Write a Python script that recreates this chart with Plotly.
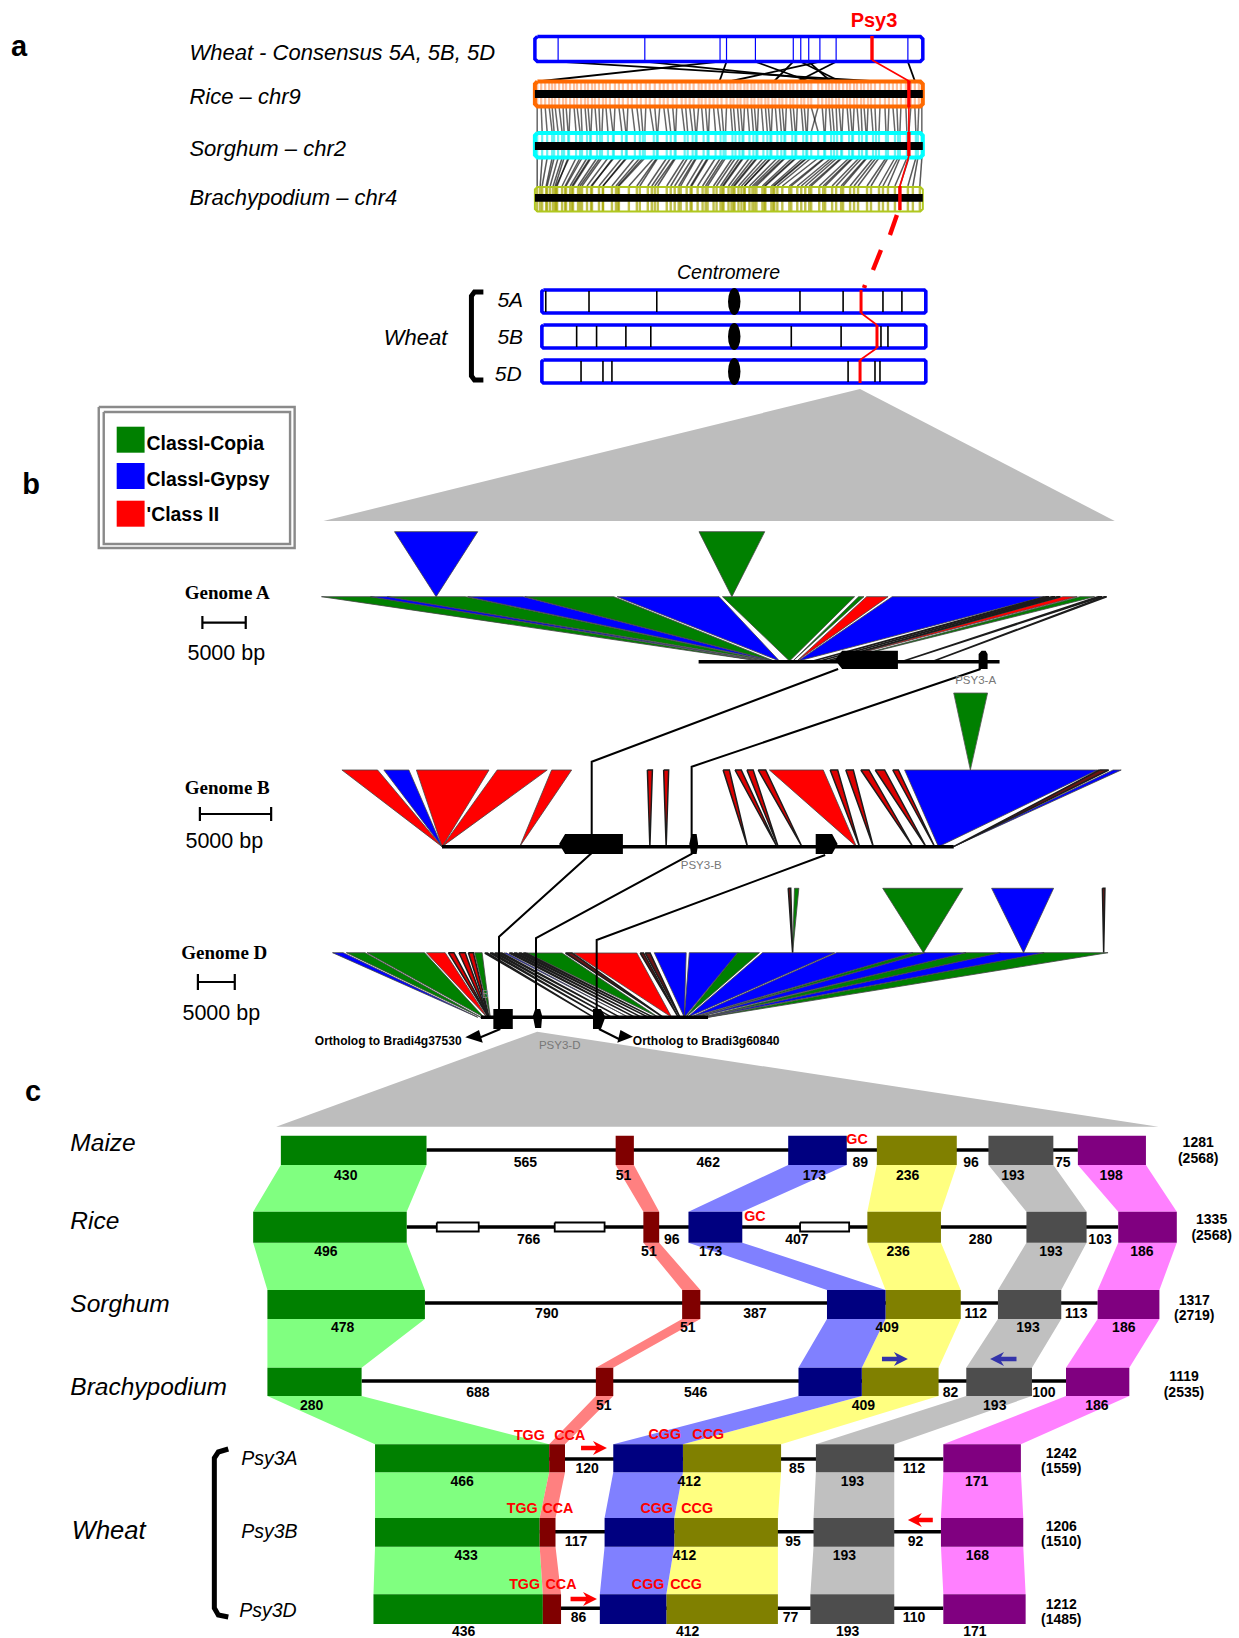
import plotly.graph_objects as go

# ---------- Panel a data (horizontal position along chromosome, in image units) ----------
consensus_ticks = [561, 648, 723.5, 730, 759, 797, 804.5, 812.5, 823.7, 840, 912]
consensus_to_rice_top = [561, 648, 723.5, 730, 759, 797, 804.5, 812.5, 823.7, 840, 912]
consensus_to_rice_bottom = [874, 839, 545, 723, 812, 778, 843, 834, 735, 802, 919]
rice_genes = [540,544,548,552,555,558,562,566,569,573,
              577,580,584,588,591,595,598,602,606,609,
              613,618,622,626,631,635,640,644,649,653,
              658,663,667,671,676,680,685,689,693,697,
              702,705,709,713,717,721,725,730,734,737,
              741,744,748,751,755,758,762,765,769,772,
              776,779,783,786,790,794,797,801,805,808,
              812,815,822,826,830,833,836,840,843,847,
              851,854,858,861,865,868,872,875,879,884,
              889,893,897,901,905,910,915,919,923,926]
sorghum_genes = [540,545,550,555,557,561,565,567,571,572,
                 579,583,585,590,593,594,600,603,605,611,
                 616,617,625,629,630,638,643,646,648,657,
                 660,661,670,674,678,679,688,691,696,699,
                 700,707,711,712,719,724,727,729,736,739,
                 743,746,747,753,757,760,761,767,771,774,
                 775,781,785,788,789,796,799,800,807,810,
                 811,822,815,828,829,835,838,841,845,846,
                 853,856,857,863,866,870,871,877,880,883,
                 890,892,899,902,904,911,913,920,922,926]
brachy_genes = [540,543,545,549,550,553,556,558,560,559,
                565,568,569,573,575,576,581,583,585,590,
                595,594,602,606,606,615,619,621,622,632,
                640,643,651,655,658,661,670,674,678,682,
                684,690,694,695,701,706,709,711,717,720,
                724,726,727,732,735,737,738,742,745,748,
                748,753,756,758,760,766,768,769,775,777,
                778,786,781,793,795,801,805,809,813,815,
                823,827,829,836,840,845,847,854,858,862,
                871,875,883,887,892,899,904,912,917,924]
wheat_5a_ticks = [548.6, 592, 660, 803.7, 847, 887, 906]
wheat_5b_ticks = [579.6, 599.6, 629, 654, 795, 845, 885, 892]
wheat_5d_ticks = [584, 606, 615, 852, 879, 884]
wheat_psy3_pos = [865, 881, 864]

# ---------- Panel b data: left edge, right edge, apex, class ----------
genome_a_left  = [347,420,445,565,650,788,945,1148,1160,1198,1427,1436,1444,1452,1478,1505,1514]
genome_a_right = [420,445,562,648,783,940,1142,1156,1192,1425,1432,1441,1449,1474,1500,1511,1518]
genome_a_apex  = [1000,1008,1015,1020,1022,1030,1045,1050,1056,1058,1080,1090,1100,1105,1115,1215,1260]
genome_a_class = list("GBGBGBGGRBKKKRGKK")
genome_a_upper_left  = [456, 910]
genome_a_upper_right = [580, 1008]
genome_a_upper_apex  = [518, 959]
genome_a_upper_class = list("BG")

genome_b_left  = [293,360,412,541,628,781,807,902,921,940,958,976,1073,1098,1122,1145,1173,1192,1503,1525]
genome_b_right = [350,400,528,621,660,789,815,912,931,950,970,1062,1085,1110,1135,1160,1182,1500,1518,1538]
genome_b_apex  = [453,453,453,453,577,785,811,941,988,990,1028,1115,1120,1142,1205,1226,1240,1246,1270,1270]
genome_b_class = list("RBRRRTTTTTTRTTTTTBKB")

genome_d_left_l = [278,300,333,428,463,480,495,505]
genome_d_left_r = [295,330,425,458,472,490,503,517]
genome_d_left_a = [510,515,520,525,527,527,528,530]
genome_d_left_c = list("BGGRTTTG")

genome_d_mid_l = [22,38,52,66,80,96,110,124,138,150,265,290,490,505]
genome_d_mid_r = [30,46,60,74,88,104,118,132,146,255,285,480,500,520]
genome_d_mid_a = [350,380,405,430,455,475,495,515,530,545,560,585,605,610]
genome_d_mid_c = list("KKKKBTKKKGKRKK")

genome_d_right_l = [792,848,925,965,1083,1205,1225,1290,1345,1415]
genome_d_right_r = [843,925,960,1080,1205,1225,1290,1345,1415,1517]
genome_d_right_a = [840,840,842,845,850,855,860,868,872,878]
genome_d_right_c = list("BBGBBGBGBG")

genome_d_upper_left  = [1006,1016,1157,1331,1508]
genome_d_upper_right = [1010,1023,1285,1430,1512]
genome_d_upper_apex  = [1013,1013,1222,1382,1510]
genome_d_upper_class = list("KGGBK")

# ---------- Panel c data ----------
row_names = ["Maize", "Rice", "Sorghum", "Brachypodium", "Psy3A", "Psy3B", "Psy3D"]
row_top    = [1135.7, 1211.7, 1290, 1367.7, 1444.3, 1518, 1594.3]
row_bottom = [1165, 1242.7, 1319, 1396, 1472.3, 1546.7, 1624]
row_line   = [1150, 1227, 1303, 1381, 1459, 1531.7, 1608.3]
green_start  = [356, 321, 339, 339, 475, 475, 473]
green_end    = [540, 515, 538, 458, 695, 683, 687]
red_start    = [779, 814, 863, 754, 695, 683, 687]
red_end      = [802, 834, 886, 776, 715, 703, 710]
navy_start   = [997, 871, 1046, 1010, 776, 765, 759]
navy_end     = [1071, 939, 1120, 1090, 864, 853, 843]
olive_start  = [1109, 1097, 1120, 1090, 864, 853, 843]
olive_end    = [1210, 1190, 1215, 1187, 988, 984, 984]
gray_start   = [1250, 1298, 1262, 1222, 1032, 1029, 1025]
gray_end     = [1332, 1374, 1342, 1305, 1131, 1131, 1131]
purple_start = [1363, 1414, 1388, 1348, 1193, 1190, 1193]
purple_end   = [1449, 1488, 1466, 1428, 1291, 1294, 1297]
rice_te_start = [553, 702, 1012]
rice_te_end   = [606, 765, 1074]

maize_exon_labels = ["430","51","173","236","193","198"]
maize_exon_x = [438,789,1030,1148,1281,1405]
rice_exon_labels = ["496","51","173","236","193","186"]
rice_exon_x = [413,821,899,1136,1329,1444]
sorghum_exon_labels = ["478","51","409","193","186"]
sorghum_exon_x = [434,870,1122,1300,1421]
brachy_exon_labels = ["280","51","409","193","186"]
brachy_exon_x = [395,764,1092,1258,1387]
psy3a_exon_labels = ["466","412","193","171"]
psy3a_exon_x = [585,872,1078,1235]
psy3b_exon_labels = ["433","412","193","168"]
psy3b_exon_x = [590,866,1068,1236]
psy3d_exon_labels = ["436","412","193","171"]
psy3d_exon_x = [587,870,1072,1233]

maize_intron_labels = ["565","462","89","96","75"]
maize_intron_x = [665,896,1088,1228,1344]
rice_intron_labels = ["766","96","407","280","103"]
rice_intron_x = [669,850,1008,1240,1391]
sorghum_intron_labels = ["790","387","112","113"]
sorghum_intron_x = [692,955,1234,1361]
brachy_intron_labels = ["688","546","82","100"]
brachy_intron_x = [605,880,1202,1320]
psy3a_intron_labels = ["120","85","112"]
psy3a_intron_x = [743,1008,1156]
psy3b_intron_labels = ["117","95","92"]
psy3b_intron_x = [729,1003,1158]
psy3d_intron_labels = ["86","77","110"]
psy3d_intron_x = [732,1000,1156]

total_labels = ["1281","1335","1317","1119","1242","1206","1212"]
total_paren  = ["(2568)","(2568)","(2719)","(2535)","(1559)","(1510)","(1485)"]
total_x      = [1515,1532,1510,1497,1342,1342,1342]
total_y1     = [1143.3,1220.3,1301,1376.7,1454,1527,1605.3]
total_y2     = [1158.7,1235.7,1316.3,1393,1469,1542,1620.3]
motif_labels = ["GC","GC","TGG","CCA","CGG","CCG","TGG","CCA","CGG","CCG","TGG","CCA","CGG","CCG"]
motif_x = [1084,955,670,721,841,896,661,706,831,882,664,710,820,868]
motif_y = [1140,1217,1435.7,1435.7,1435,1435,1509,1509.3,1508.7,1508.7,1585,1585,1585,1585]

# ---------- helpers ----------
fig = go.Figure()
SANS = "Liberation Sans"
SERIF = "Liberation Serif"
COL = {"G": "#008000", "B": "#0000ff", "R": "#ff0000", "K": "#6b1414", "T": "#dd0000"}
z1 = lambda v: v / 1.259
z2x = lambda v: v / 1.486 + 90
z2y = lambda v: v / 3 + 390
z3x = lambda v: v / 1.592 + 160
z3y = lambda v: v / 3 + 720
z4 = lambda v: v / 1.259
z8x = lambda v: v / 3 + 480


def poly(items, fill, line="rgba(0,0,0,0)", w=0):
    xs, ys = [], []
    for pts in items:
        xs += [p[0] for p in pts] + [pts[0][0], None]
        ys += [p[1] for p in pts] + [pts[0][1], None]
    fig.add_trace(go.Scatter(x=xs, y=ys, mode="lines", fill="toself", fillcolor=fill,
                             line=dict(color=line, width=w), hoverinfo="skip"))


def lines(segs, color, w):
    xs, ys = [], []
    for s in segs:
        xs += [p[0] for p in s] + [None]
        ys += [p[1] for p in s] + [None]
    fig.add_trace(go.Scatter(x=xs, y=ys, mode="lines", line=dict(color=color, width=w), hoverinfo="skip"))


def text(xs, ys, labels, size, color="#000", bold=False, italic=False, family=SANS, pos="middle center", dy=None):
    if dy is None:
        dy = 2.2 if size >= 18 else 0.5
    fig.add_trace(go.Scatter(x=xs, y=[v + dy for v in ys], mode="text", text=labels, textposition=pos, hoverinfo="skip",
                             textfont=dict(family=family, size=size, color=color,
                                           weight="bold" if bold else "normal",
                                           style="italic" if italic else "normal")))


def fans(left, right, apex, cls, ytop, ybase, fx, edge="#444", w=0.8):
    for c in ["G", "B", "R", "K", "T"]:
        tri = [[(fx(l), ytop), (fx(r), ytop), (fx(a), ybase)]
               for l, r, a, k in zip(left, right, apex, cls) if k == c]
        if tri:
            thin = c in "KT"
            poly(tri, COL[c], "#1c1c1c" if thin else edge, 1.5 if thin else w)


def rect(x0, x1, y0, y1):
    return [(x0, y0), (x1, y0), (x1, y1), (x0, y1)]


def rounded(x0, x1, y0, y1, r=2.5):
    return [(x0 + r, y0), (x1 - r, y0), (x1, y0 + r), (x1, y1 - r), (x1 - r, y1), (x0 + r, y1),
            (x0, y1 - r), (x0, y0 + r), (x0 + r, y0)]


def arrow(x_tail, x_head, y, color):
    d = 1 if x_head > x_tail else -1
    neck = x_head - d * 11
    return poly([[(x_tail, y - 2.2), (neck, y - 2.2), (neck - d * 3, y - 7), (x_head, y),
                  (neck - d * 3, y + 7), (neck, y + 2.2), (x_tail, y + 2.2)]], color)


# ---------- Panel a ----------
X0, X1 = 537.7, 927
lines([[(a, 107), (b, 132)] for a, b in zip(rice_genes, sorghum_genes)], "rgba(0,0,0,0.6)", 1.5)
lines([[(a, 158), (b, 186)] for a, b in zip(sorghum_genes, brachy_genes)], "rgba(0,0,0,0.65)", 1.5)
lines([[(a, 61.7), (b, 81)] for a, b in zip(consensus_to_rice_top, consensus_to_rice_bottom)], "#000", 1.8)
lines([[(v, 81), (v, 107)] for v in rice_genes], "rgba(255,130,60,0.5)", 2.2)
lines([[(v, 132), (v, 158)] for v in sorghum_genes], "rgba(0,235,235,0.6)", 2.2)
lines([[(v, 186), (v, 212)] for v in brachy_genes], "rgba(165,165,0,0.7)", 2.4)
lines([rounded(X0, X1, 36.5, 61.5)], "#0000ff", 3.5)
lines([rounded(X0, X1, 81.5, 106.5)], "#ff6a00", 4)
lines([rounded(X0, X1, 133, 157.5)], "#00ffff", 4)
lines([rounded(X0, X1, 187, 211.5)], "#b0c81e", 2)
poly([rect(X0, X1, 90, 98), rect(X0, X1, 142, 150), rect(X0, X1, 194, 201.7)], "#000")
lines([[(v, 38), (v, 60)] for v in consensus_ticks], "#0000ff", 1.2)
lines([[(876, 36), (876, 60)], [(913, 81), (913, 107)], [(913, 132), (913, 156)], [(904, 186), (904, 210)]], "#ff0000", 3.4)
lines([[(876, 60), (913, 81), (913, 132)], [(913, 156), (904, 186)]], "#ff0000", 1.6)
lines([[(901, 215), (894, 235)], [(885, 250), (877, 270)], [(869, 285), (868, 288)]], "#ff0000", 4.4)

for (yt, yb, ticks) in [(290, 313, wheat_5a_ticks), (325, 348, wheat_5b_ticks), (360, 383, wheat_5d_ticks)]:
    lines([rounded(544.7, 930, yt, yb, 1.5)], "#0000ff", 3.6)
    lines([[(v, yt + 1), (v, yb - 1)] for v in ticks], "#000", 1.6)
    fig.add_shape(type="circle", x0=731.5, x1=744, y0=yt - 2, y1=yb + 2, fillcolor="#000", line_width=0, xref="x", yref="y")
lines([[(wheat_psy3_pos[0], 290), (wheat_psy3_pos[0], 313)], [(wheat_psy3_pos[1], 325), (wheat_psy3_pos[1], 348)],
       [(wheat_psy3_pos[2], 360), (wheat_psy3_pos[2], 383)]], "#ff0000", 3)
lines([[(wheat_psy3_pos[0], 313), (wheat_psy3_pos[1], 325)], [(wheat_psy3_pos[1], 348), (wheat_psy3_pos[2], 360)]], "#ff0000", 1.6)
lines([[(486, 292), (477, 292), (474, 296), (474, 376), (477, 380), (486, 380)]], "#000", 5)

text([191, 191, 191, 191], [52.7, 96.7, 148, 197],
     ["Wheat - Consensus 5A, 5B, 5D", "Rice – chr9", "Sorghum – chr2", "Brachypodium – chr4"],
     22, italic=True, pos="middle right")
text([878], [20.7], ["Psy3"], 20, "#ff0000", bold=True, dy=1)
text([20, 32, 34], [47, 485, 1092], ["a", "b", "c"], 29, bold=True)
text([732], [272], ["Centromere"], 19.5, italic=True)
text([418], [337], ["Wheat"], 22, italic=True)
text([513, 513, 511], [300, 337, 374], ["5A", "5B", "5D"], 21, italic=True)

# ---------- Panel b ----------
poly([[(864, 389), (1119.6, 521), (325.5, 521)]], "#bdbdbd")
lines([rect(100, 296.6, 407, 548) + [(100, 407)], rect(105, 292, 412, 544) + [(105, 412)]], "#8a8a8a", 2.4)
poly([rect(118, 146, 426.7, 452.7)], "#008000")
poly([rect(118, 146, 463, 489)], "#0000ff")
poly([rect(118, 146, 500.7, 526.7)], "#ff0000")
text([148, 148, 148], [442.7, 478.7, 514], ["ClassI-Copia", "ClassI-Gypsy", "'Class II"], 19.4, bold=True, pos="middle right")

text([229, 229, 226], [591.7, 786.7, 952], ["Genome A", "Genome B", "Genome D"], 19, bold=True, family=SERIF)
text([228, 226, 223], [652, 840, 1012], ["5000 bp", "5000 bp", "5000 bp"], 21.5)
lines([[(204, 622.7), (247.5, 622.7)], [(204, 616), (204, 629)], [(247.5, 616), (247.5, 629)],
       [(201.5, 814), (273, 814)], [(201.5, 807), (201.5, 821)], [(273, 807), (273, 821)],
       [(199.5, 982), (236.5, 982)], [(199.5, 974), (199.5, 990)], [(236.5, 974), (236.5, 990)]], "#000", 2.2)

# Genome A
fans(genome_a_upper_left, genome_a_upper_right, genome_a_upper_apex, genome_a_upper_class, 531.7, 596.7, z2x)
fans(genome_a_left, genome_a_right, genome_a_apex, genome_a_class, 596.7, 661, z2x)
poly([[(958, 693), (992, 693), (974.7, 770)]], "#008000", "#555", 0.8)
# Genome B
fans(genome_b_left, genome_b_right, genome_b_apex, genome_b_class, 770, 846.7, z3x)
# Genome D
fans(genome_d_upper_left, genome_d_upper_right, genome_d_upper_apex, genome_d_upper_class, 888.3, 952.7, z3x)
fans(genome_d_left_l, genome_d_left_r, genome_d_left_a, genome_d_left_c, 952.7, 1017.3, z3x)
fans(genome_d_mid_l, genome_d_mid_r, genome_d_mid_a, genome_d_mid_c, 953, 1017.3, z8x)
fans(genome_d_right_l, genome_d_right_r, genome_d_right_a, genome_d_right_c, 952.7, 1017.3, z3x)
text([z3x(522)], [z3y(825)], ["B"], 10, "#888")

lines([[(702, 661.7), (1004, 661.7)], [(444.5, 846.7), (958, 846.7)], [(483.5, 1017.3), (711.5, 1017.3)]], "#000", 3.4)
poly([[(839, 660), (846, 650.7), (902, 650.7), (902, 669), (846, 669)],
      [(983, 654), (986, 650.7), (990, 650.7), (992, 654), (992, 669), (983, 669)],
      [(562, 844), (568, 834), (626, 834), (626, 854), (568, 854)],
      [(692.6, 844), (695, 834), (700, 834), (701.5, 844), (700, 854), (695, 854)],
      [(819.5, 834), (836, 834), (841.5, 844), (836, 854), (819.5, 854)],
      rect(496, 515.5, 1009, 1029),
      [(535.6, 1016), (538, 1009), (543, 1009), (545, 1016), (544, 1028), (538, 1028)],
      [(596, 1009), (604, 1009), (608.5, 1017), (604, 1029), (596, 1029)]], "#000")
lines([[(842, 669), (594.7, 761.7), (594.7, 853), (501.7, 936.7), (501.7, 1010)],
       [(985, 669), (695, 766.7), (695, 854), (538.8, 938), (538.8, 1010)],
       [(829, 855), (599.7, 940), (599.7, 1010)],
       [(503, 1029), (479, 1039)], [(602, 1029), (622, 1039)]], "#000", 2)
poly([[(z3x(490), z3y(952)), (z3x(518), z3y(968)), (z3x(512), z3y(930))],
      [(z3x(758), z3y(950)), (z3x(733), z3y(968)), (z3x(738), z3y(930))]], "#000")
poly([[(540, 1031.7), (1163.5, 1126.7), (278, 1126.7)]], "#bdbdbd")
text([980, 704.6, 562.6], [681, 866, 1046], ["PSY3-A", "PSY3-B", "PSY3-D"], 11.5, "#777")
text([390.5, 709.6], [1041, 1041], ["Ortholog to Bradi4g37530", "Ortholog to Bradi3g60840"], 12, bold=True)

# ---------- Panel c ----------
groups = [(green_start, green_end, "#80ff80", "#008000"), (olive_start, olive_end, "#ffff80", "#808000"),
          (navy_start, navy_end, "#8080ff", "#000080"), (red_start, red_end, "#ff8080", "#800000"),
          (gray_start, gray_end, "#c0c0c0", "#4d4d4d"), (purple_start, purple_end, "#ff80ff", "#800080")]
for st, en, light, dark in groups:
    poly([[(z4(st[i]), row_bottom[i]), (z4(en[i]), row_bottom[i]), (z4(en[i + 1]), row_top[i + 1]), (z4(st[i + 1]), row_top[i + 1])]
          for i in range(len(row_names) - 1)], light)
lines([[(z4(green_end[i]), row_line[i]), (z4(purple_start[i]), row_line[i])] for i in range(len(row_names))], "#000", 3.4)
poly([rect(z4(a), z4(b), 1222.5, 1231.5) for a, b in zip(rice_te_start, rice_te_end)], "#fff", "#000", 1.8)
for st, en, light, dark in groups:
    poly([rect(z4(st[i]), z4(en[i]), row_top[i], row_bottom[i]) for i in range(len(row_names))], dark)

exon_rows = [(maize_exon_labels, maize_exon_x, 1176), (rice_exon_labels, rice_exon_x, 1252),
             (sorghum_exon_labels, sorghum_exon_x, 1328), (brachy_exon_labels, brachy_exon_x, 1406),
             (psy3a_exon_labels, psy3a_exon_x, 1482.3), (psy3b_exon_labels, psy3b_exon_x, 1556),
             (psy3d_exon_labels, psy3d_exon_x, 1632)]
intron_rows = [(maize_intron_labels, maize_intron_x, 1162.5), (rice_intron_labels, rice_intron_x, 1239.5),
               (sorghum_intron_labels, sorghum_intron_x, 1314), (brachy_intron_labels, brachy_intron_x, 1393),
               (psy3a_intron_labels, psy3a_intron_x, 1469), (psy3b_intron_labels, psy3b_intron_x, 1542),
               (psy3d_intron_labels, psy3d_intron_x, 1618)]
for labs, xs, y in exon_rows + intron_rows:
    text([z4(v) for v in xs], [y] * len(xs), labs, 14, bold=True)
text([z4(v) for v in total_x], total_y1, total_labels, 14, bold=True)
text([z4(v) for v in total_x], total_y2, total_paren, 14, bold=True)
text([z4(v) for v in motif_x], motif_y, motif_labels, 14.3, "#ff0000", bold=True)
arrow(584, 610, 1448, "#ff0000")
arrow(937, 912, 1520, "#ff0000")
arrow(573.5, 600, 1599, "#ff0000")
arrow(886, 912, 1359, "#3333aa")
arrow(1021, 994.5, 1359, "#3333aa")
lines([[(230, 1449), (220, 1452), (216, 1458), (216, 1608), (220, 1615), (230, 1617)]], "#000", 5)
text([71.5, 71.5, 71.5, 71.5], [1142.7, 1220.7, 1304, 1386.7],
     ["Maize", "Rice", "Sorghum", "Brachypodium"], 24.5, italic=True, pos="middle right")
text([73], [1530], ["Wheat"], 25.5, italic=True, pos="middle right")
text([243, 243, 241], [1458, 1531, 1610], ["Psy3A", "Psy3B", "Psy3D"], 19.5, italic=True, pos="middle right")

fig.update_layout(width=1239, height=1638, margin=dict(l=0, r=0, t=0, b=0), showlegend=False,
                  plot_bgcolor="#fff", paper_bgcolor="#fff",
                  xaxis=dict(range=[0.9, 1244.3], visible=False, fixedrange=True),
                  yaxis=dict(range=[1638, 0], visible=False, fixedrange=True))
fig.write_html("out.html", config=dict(displayModeBar=False),
               post_script="document.body.style.margin='0';document.body.style.overflow='hidden';")
